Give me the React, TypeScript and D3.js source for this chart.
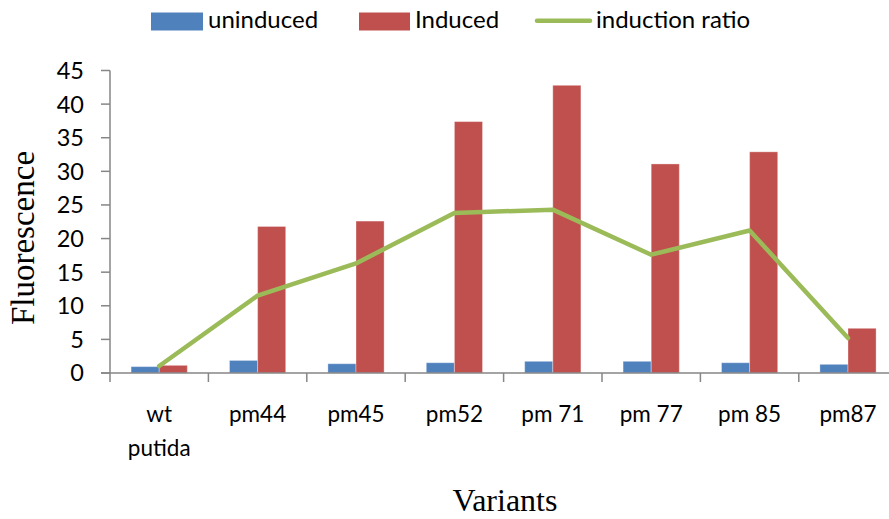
import React from "react";
import * as d3 from "d3";

const categories = ["wt\nputida", "pm44", "pm45", "pm52", "pm 71", "pm 77", "pm 85", "pm87"];
const uninduced = [0.95, 1.87, 1.38, 1.53, 1.74, 1.74, 1.53, 1.29];
const induced = [1.14, 21.8, 22.6, 37.4, 42.8, 31.1, 32.9, 6.65];
const inductionRatio = [1.04, 11.5, 16.3, 23.8, 24.3, 17.6, 21.2, 5.2];
const yTicks = [0, 5, 10, 15, 20, 25, 30, 35, 40, 45];
const seriesNames = ["uninduced", "Induced", "induction ratio"];

const BLUE = "#4F81BD";
const RED = "#C0504D";
const GREEN = "#9BBB59";
const AXIS = "#868686";
const SANS = "Lato, 'Open Sans', sans-serif";
const SERIF = "'Liberation Serif', 'Times New Roman', serif";

export default function App() {
  const W = 889;
  const H = 519;
  const x0 = 110;
  const band = 98.4;
  const x = d3
    .scaleBand<string>()
    .domain(categories)
    .range([x0, x0 + band * categories.length])
    .paddingInner(0)
    .paddingOuter(0);
  const y = d3.scaleLinear().domain([0, 45]).range([373, 70.5]);
  const barW = band / 3.5;

  const line = d3
    .line<number>()
    .x((_, i) => (x(categories[i]) as number) + band / 2)
    .y((d) => y(d));

  return (
    <svg
      width={W}
      height={H}
      style={{ position: "absolute", left: 0, top: 0, background: "#fff" }}
    >
      {/* legend */}
      <rect x={151} y={12.5} width={52} height={18} fill={BLUE} />
      <text x={208} y={28} fontFamily={SANS} fontSize={24} fill="#000">
        {seriesNames[0]}
      </text>
      <rect x={359} y={12.5} width={51} height={18} fill={RED} />
      <text x={415} y={28} fontFamily={SANS} fontSize={24} fill="#000">
        {seriesNames[1]}
      </text>
      <line x1={537} x2={590} y1={20.7} y2={20.7} stroke={GREEN} strokeWidth={4.5} strokeLinecap="round" />
      <text x={596} y={28} fontFamily={SANS} fontSize={24} fill="#000">
        {seriesNames[2]}
      </text>

      {/* bars */}
      {categories.map((c, i) => {
        const cx = (x(c) as number) + band / 2;
        return (
          <g key={c}>
            <rect
              x={cx - barW}
              y={y(uninduced[i])}
              width={barW}
              height={y(0) - y(uninduced[i])}
              fill={BLUE}
              stroke="rgba(255,255,255,0.35)"
              strokeWidth={1}
            />
            <rect
              x={cx}
              y={y(induced[i])}
              width={barW}
              height={y(0) - y(induced[i])}
              fill={RED}
              stroke="rgba(255,255,255,0.35)"
              strokeWidth={1}
            />
          </g>
        );
      })}

      {/* y axis */}
      <line x1={x0} x2={x0} y1={y(45)} y2={y(0)} stroke={AXIS} strokeWidth={1.5} />
      {yTicks.map((t) => (
        <g key={t}>
          <line x1={x0 - 9} x2={x0} y1={y(t)} y2={y(t)} stroke={AXIS} strokeWidth={1.5} />
          <text
            x={84}
            y={y(t)}
            dy="0.36em"
            textAnchor="end"
            fontFamily={SANS}
            fontSize={23.5}
            fill="#000"
          >
            {t}
          </text>
        </g>
      ))}

      {/* x axis */}
      <line x1={x0 - 9} x2={x0 + band * categories.length} y1={y(0)} y2={y(0)} stroke={AXIS} strokeWidth={1.5} />
      {categories.map((c, i) => (
        <line
          key={"t" + i}
          x1={(x(c) as number) + band}
          x2={(x(c) as number) + band}
          y1={y(0)}
          y2={y(0) + 9}
          stroke={AXIS}
          strokeWidth={1.5}
        />
      ))}
      <line x1={x0} x2={x0} y1={y(0)} y2={y(0) + 9} stroke={AXIS} strokeWidth={1.5} />
      {categories.map((c) => {
        const lines = c.split("\n");
        return (
          <text
            key={"l" + c}
            x={(x(c) as number) + band / 2}
            y={422}
            textAnchor="middle"
            fontFamily={SANS}
            fontSize={22.5}
            fill="#000"
          >
            {lines.map((l, j) => (
              <tspan key={j} x={(x(c) as number) + band / 2} dy={j === 0 ? 0 : 34}>
                {l}
              </tspan>
            ))}
          </text>
        );
      })}

      {/* line */}
      <path
        d={line(inductionRatio) as string}
        fill="none"
        stroke={GREEN}
        strokeWidth={4.5}
        strokeLinejoin="round"
        strokeLinecap="round"
      />

      {/* axis titles */}
      <text
        transform={`translate(34,238) rotate(-90)`}
        textAnchor="middle"
        fontFamily={SERIF}
        fontSize={33}
        fill="#000"
      >
        Fluorescence
      </text>
      <text x={505} y={511} textAnchor="middle" fontFamily={SERIF} fontSize={32} fill="#000">
        Variants
      </text>
    </svg>
  );
}
